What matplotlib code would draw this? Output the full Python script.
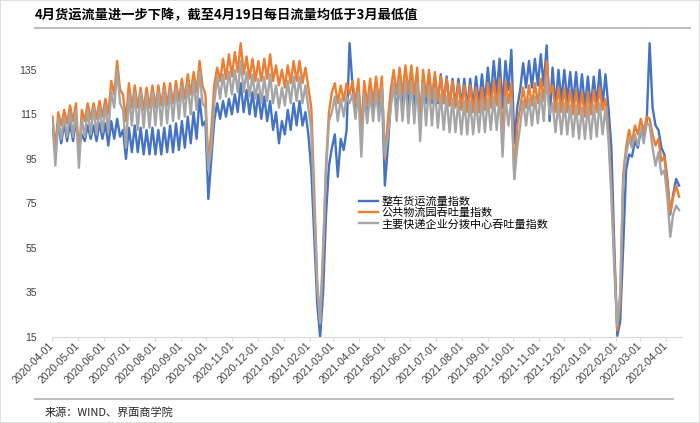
import pandas as pd
import matplotlib.pyplot as plt
import matplotlib.dates as mdates
from matplotlib.patches import Rectangle
from matplotlib.lines import Line2D

# values, two points per week (mid-week high, weekend low)
# 2020-04-01 .. 2022-04-16
truck = [
    108, 101, 110, 102, 111, 103, 111, 103, 112,   # 2020-04
    100, 106, 103, 110, 104, 110, 103, 111, 104,   # 2020-05
    111, 101, 112, 104, 113, 105, 108, 95,         # 2020-06
    109, 98, 110, 98, 109, 97, 108, 97, 109,       # 2020-07
    97, 108, 97, 109, 98, 110, 98, 111, 99,        # 2020-08
    112, 100, 114, 102, 116, 104, 122, 110, 112,   # 2020-09
    77, 95, 112, 120, 113, 121, 114, 122,          # 2020-10
    115, 124, 116, 129, 116, 126, 115, 125, 114,   # 2020-11
    124, 113, 123, 112, 121, 108, 116, 102, 112,   # 2020-12
    106, 117, 108, 120, 110, 121, 110, 116, 106,   # 2021-01
    90, 60, 30, 15, 35, 70, 92, 100,               # 2021-02
    106, 87, 104, 99, 108, 147, 128, 118, 126,     # 2021-03
    110, 124, 114, 125, 115, 126, 116, 126,        # 2021-04
    83, 100, 120, 128, 117, 129, 118, 130, 119,    # 2021-05
    131, 119, 130, 112, 131, 120, 132, 120, 132,   # 2021-06
    120, 133, 120, 132, 119, 131, 119, 131,        # 2021-07
    119, 131, 118, 131, 118, 132, 119, 133, 120,   # 2021-08
    136, 122, 139, 124, 140, 118, 139, 126, 144,   # 2021-09
    102, 118, 126, 138, 127, 139, 127, 140, 128,   # 2021-10
    142, 128, 146, 112, 136, 118, 135, 121,        # 2021-11
    135, 121, 134, 120, 134, 119, 133, 118, 132,   # 2021-12
    118, 132, 119, 135, 119, 133, 118, 100, 55,    # 2022-01
    15.5, 22, 55, 90, 97, 96, 103, 100,            # 2022-02
    108, 105, 112, 147, 118, 110, 108, 100, 97,    # 2022-03
    86, 70, 79, 86, 83,                            # 2022-04
]

park = [
    114, 100, 116, 110, 117, 111, 119, 112, 120,   # 2020-04
    96, 117, 112, 120, 113, 120, 113, 121, 114,    # 2020-05
    122, 115, 130, 124, 139, 126, 124, 112,        # 2020-06
    129, 118, 128, 118, 127, 117, 127, 118, 128,   # 2020-07
    118, 128, 119, 129, 119, 129, 120, 130, 121,   # 2020-08
    131, 122, 133, 124, 134, 125, 139, 128, 124,   # 2020-09
    92, 108, 128, 136, 130, 140, 131, 142,         # 2020-10
    132, 143, 134, 147, 133, 141, 131, 140, 130,   # 2020-11
    139, 130, 140, 131, 142, 130, 137, 128, 135,   # 2020-12
    127, 137, 129, 139, 130, 139, 129, 136, 127,   # 2021-01
    118, 80, 40, 22, 50, 92, 116, 125,             # 2021-02
    129, 120, 128, 121, 129, 124, 130, 120, 131,   # 2021-03
    108, 130, 119, 131, 120, 132, 121, 132,        # 2021-04
    95, 112, 126, 135, 124, 136, 124, 137, 125,    # 2021-05
    137, 124, 136, 112, 135, 123, 135, 122, 134,   # 2021-06
    121, 132, 120, 131, 119, 130, 118, 129,        # 2021-07
    117, 128, 116, 128, 116, 127, 116, 127, 117,   # 2021-08
    129, 118, 130, 119, 131, 105, 130, 120, 129,   # 2021-09
    86, 110, 118, 127, 118, 128, 119, 129, 120,    # 2021-10
    131, 121, 139, 124, 128, 116, 127, 116,        # 2021-11
    127, 116, 126, 115, 126, 115, 125, 114, 125,   # 2021-12
    115, 126, 116, 127, 117, 122, 108, 82, 50,     # 2022-01
    18, 30, 88, 100, 108, 102, 110, 106,           # 2022-02
    113, 107, 114, 113, 106, 101, 104, 94, 96,     # 2022-03
    85, 71, 78, 83, 78,                            # 2022-04
]

express = [
    112, 92, 113, 104, 114, 105, 116, 105, 117,    # 2020-04
    91, 113, 105, 117, 106, 118, 106, 118, 107,    # 2020-05
    119, 107, 125, 118, 135, 120, 117, 100,        # 2020-06
    124, 110, 125, 108, 125, 109, 124, 109, 125,   # 2020-07
    110, 125, 110, 126, 111, 126, 112, 127, 113,   # 2020-08
    128, 114, 129, 115, 130, 117, 134, 120, 118,   # 2020-09
    90, 100, 120, 132, 122, 133, 123, 134,         # 2020-10
    124, 135, 125, 139, 125, 134, 123, 133, 122,   # 2020-11
    131, 120, 132, 121, 133, 120, 128, 118, 127,   # 2020-12
    119, 130, 120, 132, 121, 132, 120, 128, 118,   # 2021-01
    108, 72, 38, 21, 55, 90, 112, 116,             # 2021-02
    123, 112, 122, 114, 123, 120, 124, 113, 125,   # 2021-03
    96, 124, 111, 125, 112, 126, 112, 127,         # 2021-04
    96, 105, 118, 129, 112, 130, 112, 130, 111,    # 2021-05
    130, 111, 129, 103, 129, 110, 128, 110, 127,   # 2021-06
    109, 124, 108, 123, 107, 122, 107, 121,        # 2021-07
    106, 121, 106, 121, 106, 121, 107, 122, 107,   # 2021-08
    122, 108, 123, 108, 124, 96, 123, 110, 122,    # 2021-09
    86, 100, 110, 121, 110, 122, 110, 123, 111,    # 2021-10
    125, 112, 132, 115, 120, 107, 120, 106,        # 2021-11
    120, 106, 119, 105, 119, 104, 118, 104, 119,   # 2021-12
    104, 119, 105, 120, 106, 118, 104, 78, 45,     # 2022-01
    20, 35, 85, 97, 104, 100, 106, 101,           # 2022-02
    109, 102, 111, 110, 100, 92, 98, 88, 90,       # 2022-03
    78, 60, 70, 74, 72,                            # 2022-04
]

names = ['整车货运流量指数', '公共物流园吞吐量指数', '主要快递企业分拨中心吞吐量指数']
colors = ['#4472C4', '#ED7D31', '#A5A5A5']
yticks = [15, 35, 55, 75, 95, 115, 135]

title = '4月货运流量进一步下降，截至4月19日每日流量均低于3月最低值'
source = '来源：WIND、界面商学院'

dates = pd.date_range('2020-04-01', periods=len(truck), freq='84h')
months = pd.date_range('2020-04-01', '2022-04-01', freq='MS')

cjk = ['Noto Sans CJK SC', 'DejaVu Sans']
latin = 'Liberation Sans'

fig = plt.figure(figsize=(7, 4.23), dpi=100)
ax = fig.add_axes([52/700, 1-337/423, (682-52)/700, (337-32)/423])

for vals, name, c in zip([truck, park, express], names, colors):
    ax.plot(dates, vals, color=c, lw=1.7, label=name)

ax.set_xlim(pd.Timestamp('2020-03-31 12:00'), pd.Timestamp('2022-04-20'))
ax.set_ylim(15, 152)
ax.set_yticks(yticks)
ax.set_xticks(months)
ax.xaxis.set_major_formatter(mdates.DateFormatter('%Y-%m-%d'))

for s in ['top', 'right', 'left']:
    ax.spines[s].set_visible(False)
ax.spines['bottom'].set_color('#d9d9d9')
ax.spines['bottom'].set_linewidth(0.8)
ax.tick_params(axis='y', length=0, pad=11, labelsize=7.5, labelcolor='#404040')
ax.tick_params(axis='x', length=3, color='#d9d9d9', pad=2, labelsize=7.5, labelcolor='#404040')
for lab in ax.get_yticklabels():
    lab.set_family(latin)
for lab in ax.get_xticklabels():
    lab.set_family(latin)
    lab.set_rotation(45)
    lab.set_ha('right')
    lab.set_va('center')
    lab.set_rotation_mode('anchor')

ax.legend(loc='upper left', bbox_to_anchor=(355/700, 1-192/423), bbox_transform=fig.transFigure,
          frameon=False, prop={'family': cjk, 'size': 8}, handlelength=1.7,
          handletextpad=0.3, labelspacing=0.05, borderaxespad=0)

fig.text(35/700, 1-15/423, title, family=cjk, fontsize=9.5, fontweight='bold', va='center')
fig.add_artist(Line2D([35/700, 690/700], [1-28.5/423, 1-28.5/423], color='#bfbfbf', lw=1.5))
fig.add_artist(Line2D([35/700, 673/700], [1-399/423, 1-399/423], color='#bfbfbf', lw=1.5))
fig.text(45/700, 1-412/423, source, family=cjk, fontsize=8, va='center', color='#262626')
fig.add_artist(Rectangle((0, 0), 1, 1, transform=fig.transFigure, fill=False,
                         edgecolor='#d9d9d9', lw=1.2))

fig.savefig('out.png', dpi=100)
